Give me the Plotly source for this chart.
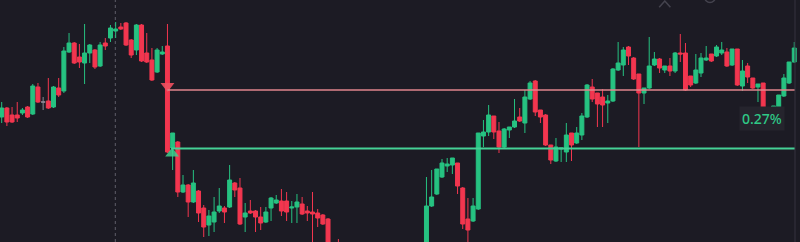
import plotly.graph_objects as go

# ---- data (price units, arbitrary scale) ----
opens = [125,134,127,127,129,135,128,155,140,141,135,154,151,190,199,185,179,189,192,176,
         199,204,211,215,219,202,192,217,189,182,170,188,196,94,100,50,57,40,51,34,
         17,20,31,34,35,59,54,25,31,31,25,20,34,39,41,41,34,35,38,31,
         30,29,27,23,-10,-2,-18,-12,-26,-35,-22,-30,-16,-9,-20,-38,-28,-32,-18,-12,
         -24,-14,-8,36,48,65,76,77,79,54,23,21,33,106,110,126,111,95,112,115,
         125,119,143,161,132,127,97,81,93,90,109,99,107,125,155,149,145,139,141,172,
         177,195,184,168,149,154,177,183,172,176,171,189,189,166,159,169,182,188,186,189,
         190,177,193,156,176,164,155,159,132,133,134,146,159,180]
highs = [140,135,135,140,134,136,158,159,145,164,156,164,195,209,200,198,218,198,193,200,
         204,217,220,219,220,203,218,218,209,194,194,196,218,109,101,67,58,72,52,37,
         32,45,54,36,77,60,64,39,42,32,35,35,45,47,53,50,41,48,45,36,
         50,33,28,24,-6,3,-10,-8,-20,-18,-15,-12,-5,-4,-14,-25,-20,-15,-8,-6,
         -10,-4,65,72,73,83,84,84,79,55,44,44,109,122,137,126,120,114,115,143,
         134,152,161,162,132,128,97,104,94,119,109,115,129,158,163,149,153,147,174,200,
         195,196,185,168,154,205,190,184,176,184,190,208,199,166,188,189,196,188,197,200,
         194,193,193,182,179,164,158,159,132,136,147,168,180,200]
lows = [119,116,119,120,127,124,127,139,132,133,134,145,149,189,178,174,158,179,173,175,
        192,200,204,212,196,184,187,180,179,161,169,187,89,72,45,49,25,39,20,5,
        6,10,29,19,34,45,17,10,28,10,12,19,21,38,26,21,19,19,27,21,
        -5,15,17,-12,-22,-20,-25,-30,-40,-38,-33,-34,-20,-25,-42,-45,-36,-35,-22,-28,
        -30,-18,-10,35,47,64,70,68,48,13,-5,20,32,95,106,103,89,94,104,114,
        120,109,142,126,119,96,78,80,80,80,81,98,102,124,140,115,115,119,140,171,
        166,177,162,95,138,153,176,169,169,166,169,180,151,155,158,165,181,180,185,187,
        175,176,156,151,159,153,140,133,119,132,133,145,158,179]
closes = [134,120,120,124,132,125,156,140,140,134,155,147,191,199,179,180,189,197,175,197,
          196,214,213,213,197,187,217,181,180,162,192,190,90,109,50,57,40,59,29,15,
          26,30,36,30,62,52,18,29,29,25,19,30,44,42,31,30,35,40,28,29,
          28,24,18,-10,-18,-15,-12,-26,-35,-22,-30,-16,-9,-20,-38,-28,-32,-18,-12,-24,
          -14,-8,36,45,73,79,78,84,56,18,12,36,109,110,127,110,95,113,115,121,
          121,145,159,130,125,97,82,95,94,107,97,109,126,157,143,138,137,141,173,179,
          192,186,163,149,154,176,183,174,176,171,189,188,152,157,172,184,184,181,195,192,
          176,193,157,171,165,154,158,133,124,136,147,164,180,194]

red_level = 152      # horizontal red level
green_level = 93.5   # horizontal green level
label_text = "0.27%"
marker_index = 22    # dotted vertical marker

n = len(opens)
idx = list(range(n))
GREEN = "#26c281"
RED = "#f2364f"
BG = "#1c1b24"

main = [i for i in idx if opens[i] != closes[i]]
neutral = [i for i in idx if opens[i] == closes[i]]

fig = go.Figure()
fig.add_trace(go.Candlestick(
    x=main,
    open=[opens[i] for i in main], high=[highs[i] for i in main],
    low=[lows[i] for i in main], close=[closes[i] for i in main],
    increasing=dict(line=dict(color=GREEN, width=1), fillcolor=GREEN),
    decreasing=dict(line=dict(color=RED, width=1), fillcolor=RED),
    hoverinfo="skip", showlegend=False))
fig.add_trace(go.Candlestick(
    x=neutral,
    open=[opens[i] for i in neutral], high=[highs[i] for i in neutral],
    low=[lows[i] for i in neutral], close=[closes[i] for i in neutral],
    increasing=dict(line=dict(color="#8a8a94", width=1), fillcolor="#8a8a94"),
    decreasing=dict(line=dict(color="#8a8a94", width=1), fillcolor="#8a8a94"),
    hoverinfo="skip", showlegend=False))

# signal triangles
fig.add_trace(go.Scatter(x=[32], y=[red_level + 4], mode="markers",
                         marker=dict(symbol="triangle-down", size=12, color="#f0505f", opacity=0.9,
                                     line=dict(width=0)),
                         hoverinfo="skip", showlegend=False))
fig.add_trace(go.Scatter(x=[32.9], y=[green_level - 5], mode="markers",
                         marker=dict(symbol="triangle-up", size=12, color="#3ecf8e", opacity=0.85,
                                     line=dict(width=0)),
                         hoverinfo="skip", showlegend=False))

shapes = [
    dict(type="line", xref="x", yref="y", x0=32, x1=153.15, y0=red_level, y1=red_level,
         line=dict(color="#e0868d", width=1.5)),
    dict(type="line", xref="x", yref="y", x0=32.7, x1=153.15, y0=green_level, y1=green_level,
         line=dict(color="#45d196", width=2)),
    dict(type="line", xref="x", yref="paper", x0=marker_index - 0.07, x1=marker_index - 0.07, y0=0, y1=1,
         line=dict(color="#5f5e6a", width=1, dash="3px,3px"), layer="below"),
    dict(type="line", xref="paper", yref="paper", x0=0.99375, x1=0.99375, y0=0, y1=1,
         line=dict(color="#34333e", width=1)),
    dict(type="path", xref="paper", yref="paper",
         path="M 0.824 0.97 L 0.831 0.996 L 0.838 0.97",
         line=dict(color="#44434e", width=1.5)),
    dict(type="circle", xref="paper", yref="paper", x0=0.881, x1=0.894, y0=0.99, y1=1.03,
         line=dict(color="#44434e", width=1.5)),
]

fig.update_layout(
    width=800, height=242,
    margin=dict(l=0, r=0, t=0, b=0),
    paper_bgcolor=BG, plot_bgcolor=BG,
    boxgap=0.1, boxgroupgap=0.15,
    xaxis=dict(range=[-0.328, 154.11], visible=False, rangeslider=dict(visible=False),
               showgrid=False, zeroline=False),
    yaxis=dict(range=[0, 242], visible=False, showgrid=False, zeroline=False),
    shapes=shapes,
    hovermode=False,
    showlegend=False,
    annotations=[dict(xref="paper", yref="paper", x=0.9525, y=0.51, text=label_text,
                      showarrow=False,
                      font=dict(family="Noto Sans", size=14, color="#2fc987", weight=500),
                      bgcolor="#25242d", borderpad=2, xanchor="center", yanchor="middle")],
)

fig.write_html("out.html")
